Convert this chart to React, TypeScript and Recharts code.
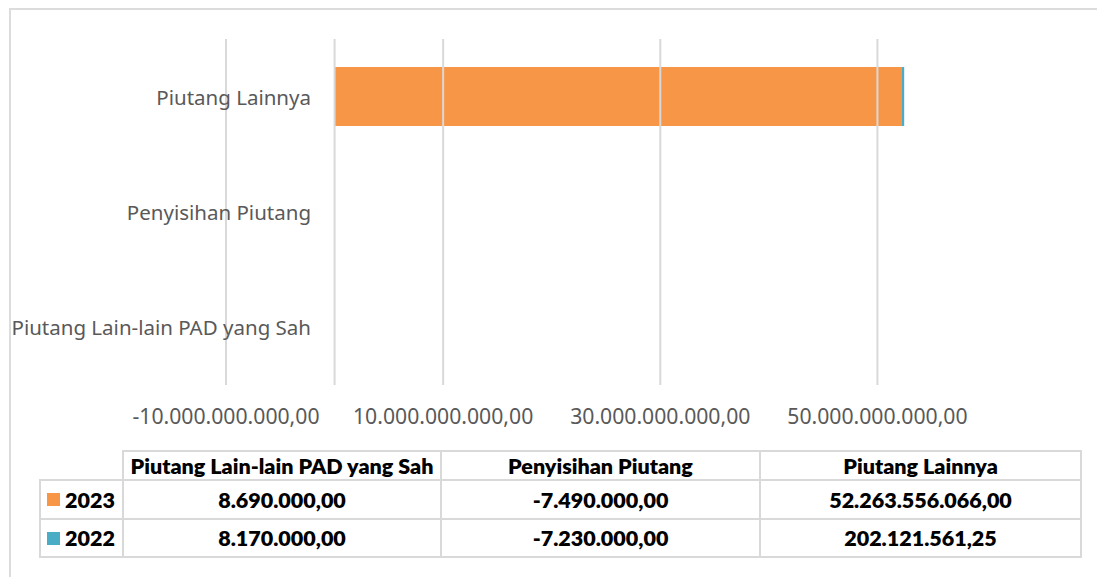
import React from 'react';
import { BarChart, Bar, XAxis, YAxis, ReferenceLine } from 'recharts';

// categories in data-table order (chart draws them bottom-up)
const categories = [
  'Piutang Lain-lain PAD yang Sah',
  'Penyisihan Piutang',
  'Piutang Lainnya',
];
const values2023 = [8690000, -7490000, 52263556066];
const values2022 = [8170000, -7230000, 202121561.25];
const xTicks = [-10000000000, 10000000000, 30000000000, 50000000000];
const xDomain = [-10000000000, 60000000000];

const ORANGE = '#F79646';
const TEAL = '#4BACC6';
const GRID = '#d9d9d9';
const LABEL = '#595959';
const AXIS_FONT = "'Noto Sans', 'Open Sans', sans-serif";

const chartData = categories.map((name, i) => ({
  name,
  y2023: values2023[i],
  y2022: values2022[i],
}));

const seriesRows = [
  { label: '2023', color: ORANGE, values: values2023 },
  { label: '2022', color: TEAL, values: values2022 },
];

/** Indonesian number format: 1.234.567,89 */
function fmt(v: number): string {
  const neg = v < 0;
  const [int, dec] = Math.abs(v).toFixed(2).split('.');
  return (neg ? '-' : '') + int.replace(/\B(?=(\d{3})+(?!\d))/g, '.') + ',' + dec;
}

// category labels sit left of the zero line, overlapping the plot's left band
function CategoryTick(props: any) {
  const { x, y, payload } = props;
  return (
    <text
      x={x + 93}
      y={y}
      textAnchor="end"
      dominantBaseline="central"
      fill={LABEL}
      fontSize={20.5}
      fontFamily={AXIS_FONT}
    >
      {payload.value}
    </text>
  );
}

// data table geometry
const TABLE_LEFT = 39;
const TABLE_TOP = 450;
const LABEL_COL = 83;
const COL_W = [318, 319, 321];
const HEADER_H = 29;
const ROW_H = [39, 38];
const BORDER = `2px solid ${GRID}`;

function DataTable() {
  const cellBase: React.CSSProperties = {
    position: 'absolute',
    boxSizing: 'border-box',
    display: 'flex',
    alignItems: 'center',
    justifyContent: 'center',
    fontFamily: "Lato, 'Noto Sans', sans-serif",
    fontWeight: 800,
    fontSize: 21.5,
    color: '#000',
    whiteSpace: 'nowrap',
  };
  const cells: React.ReactElement[] = [];
  let x = TABLE_LEFT + LABEL_COL;
  categories.forEach((c, ci) => {
    cells.push(
      <div
        key={`h${ci}`}
        style={{
          ...cellBase,
          left: x,
          top: TABLE_TOP,
          width: COL_W[ci] + 2,
          height: HEADER_H + 2,
          border: BORDER,
        }}
      >
        {c}
      </div>
    );
    x += COL_W[ci];
  });
  let y = TABLE_TOP + HEADER_H;
  seriesRows.forEach((row, ri) => {
    cells.push(
      <div
        key={`l${ri}`}
        style={{
          ...cellBase,
          left: TABLE_LEFT,
          top: y,
          width: LABEL_COL + 2,
          height: ROW_H[ri] + 2,
          border: BORDER,
          justifyContent: 'flex-start',
          paddingLeft: 6,
        }}
      >
        <span
          style={{
            display: 'inline-block',
            width: 13,
            height: 13,
            background: row.color,
            marginRight: 5,
          }}
        />
        {row.label}
      </div>
    );
    let cx = TABLE_LEFT + LABEL_COL;
    row.values.forEach((v, ci) => {
      cells.push(
        <div
          key={`c${ri}-${ci}`}
          style={{
            ...cellBase,
            left: cx,
            top: y,
            width: COL_W[ci] + 2,
            height: ROW_H[ri] + 2,
            border: BORDER,
          }}
        >
          {fmt(v)}
        </div>
      );
      cx += COL_W[ci];
    });
    y += ROW_H[ri];
  });
  return <>{cells}</>;
}

export default function App() {
  return (
    <div
      style={{
        position: 'absolute',
        left: 0,
        top: 0,
        width: 1097,
        height: 577,
        overflow: 'hidden',
        background: '#fff',
      }}
    >
      {/* chart frame: only top and left edges fall inside the picture */}
      <div
        style={{
          position: 'absolute',
          left: 9,
          top: 8,
          width: 1200,
          height: 700,
          borderTop: '2px solid #dcdcdc',
          borderLeft: '2px solid #dcdcdc',
        }}
      />
      <div style={{ position: 'absolute', left: 0, top: 0 }}>
        <BarChart
          width={1097}
          height={440}
          data={chartData}
          layout="vertical"
          margin={{ top: 39, right: 111, bottom: 0, left: 0 }}
          barSize={59}
        >
          <XAxis
            type="number"
            domain={xDomain}
            ticks={xTicks}
            allowDataOverflow
            axisLine={false}
            tickLine={false}
            tickMargin={18}
            height={55}
            tickFormatter={(v: number) => fmt(v)}
            tick={{ fill: LABEL, fontSize: 21.2, fontFamily: AXIS_FONT }}
            interval={0}
          />
          <YAxis
            type="category"
            dataKey="name"
            reversed
            width={226}
            axisLine={false}
            tickLine={false}
            tick={<CategoryTick />}
            interval={0}
          />
          {xTicks.map((t) => (
            <ReferenceLine key={t} x={t} stroke={GRID} strokeWidth={2} />
          ))}
          <ReferenceLine x={0} stroke={GRID} strokeWidth={2} />
          <Bar dataKey="y2023" stackId="a" fill={ORANGE} isAnimationActive={false} />
          <Bar dataKey="y2022" stackId="a" fill={TEAL} isAnimationActive={false} />
        </BarChart>
      </div>
      <DataTable />
    </div>
  );
}
